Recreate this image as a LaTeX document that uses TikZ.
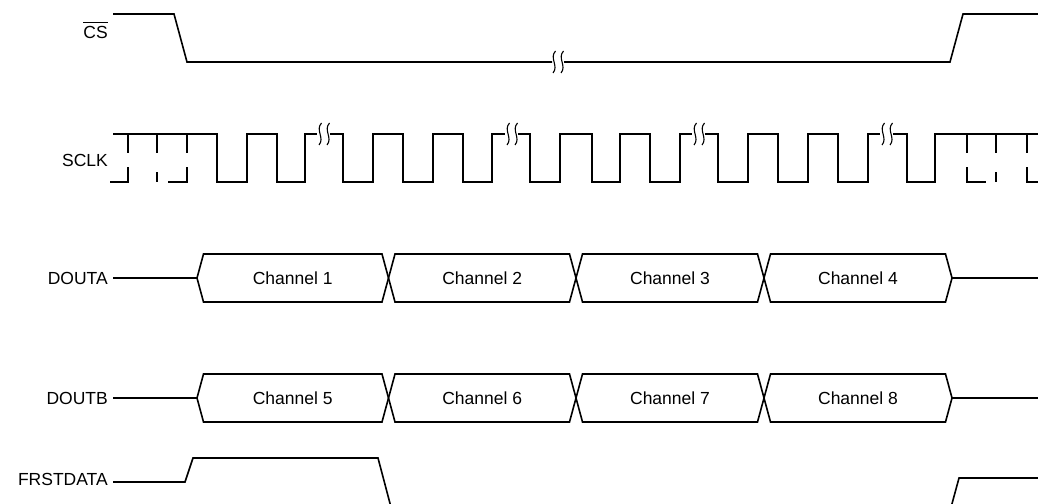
\documentclass[tikz,border=0pt]{standalone}
\usepackage{fontspec}
\setmainfont{Liberation Sans}
\newcommand\wigmark[2]{\draw[brk] (#1+1.5,#2-11) .. controls (#1-5,#2-4) and (#1+5,#2+4) .. (#1-1,#2+11);}
\newcommand\brkpair[2]{\wigmark{#1+3}{#2}\wigmark{#1+11}{#2}}
\begin{document}
\begin{tikzpicture}[x=1pt,y=-1pt,
  sig/.style={line width=1.6pt, line join=miter, line cap=butt},
  brk/.style={line width=1.1pt},
  lbl/.style={inner sep=0pt, font=\fontsize{17.5}{20}\selectfont}]
\clip (0,0) rectangle (1038,503);
\fill[white] (0,0) rectangle (1038,503);

% labels
\node[lbl, anchor=base east] (cs) at (108,38) {CS};
\draw[line width=1pt] ([yshift=3pt]cs.north west) -- ([yshift=3pt]cs.north east);
\node[lbl, anchor=base east] (sclk) at (108,166) {SCLK};
\node[lbl, anchor=base east] (douta) at (108,284) {DOUTA};
\node[lbl, anchor=base east] (doutb) at (108,404) {DOUTB};
\node[lbl, anchor=base east] (frst) at (108,485) {FRSTDATA};

% CS
\draw[sig] (113,14) -- (174,14) -- (187,62) -- (552,62);
\draw[sig] (564,62) -- (950,62) -- (963,14) -- (1038,14);
\wigmark{554}{62}\wigmark{562}{62}

% SCLK
\draw[sig] (113,134) -- (217,134) -- (217,182) -- (247,182) -- (247,134) -- (277,134) -- (277,182) -- (305,182) -- (305,134) -- (317,134);
\draw[sig] (330,134) -- (343,134) -- (343,182) -- (373,182) -- (373,134) -- (403,134) -- (403,182) -- (433,182) -- (433,134) -- (463,134) -- (463,182) -- (492,182) -- (492,134) -- (505,134);
\draw[sig] (518,134) -- (530,134) -- (530,182) -- (560,182) -- (560,134) -- (592,134) -- (592,182) -- (620,182) -- (620,134) -- (650,134) -- (650,182) -- (680,182) -- (680,134) -- (692,134);
\draw[sig] (705,134) -- (718,134) -- (718,182) -- (748,182) -- (748,134) -- (778,134) -- (778,182) -- (808,182) -- (808,134) -- (838,134) -- (838,182) -- (868,182) -- (868,134) -- (880,134);
\draw[sig] (893,134) -- (907,134) -- (907,182) -- (935,182) -- (935,134) -- (1038,134);
\brkpair{317}{134}\brkpair{505}{134}\brkpair{692}{134}\brkpair{880}{134}
% dashed clock parts left
\draw[sig] (110,182) -- (128,182) -- (128,167);
\draw[sig] (128,134) -- (128,153);
\draw[sig] (157,134) -- (157,153);
\draw[sig] (157,172) -- (157,182);
\draw[sig] (168,182) -- (187,182) -- (187,167);
\draw[sig] (187,134) -- (187,153);
% dashed clock parts right
\draw[sig] (967,134) -- (967,153);
\draw[sig] (967,167) -- (967,182) -- (986,182);
\draw[sig] (996,134) -- (996,153);
\draw[sig] (996,172) -- (996,182);
\draw[sig] (1027,134) -- (1027,153);
\draw[sig] (1027,167) -- (1027,182) -- (1038,182);

% DOUTA
\draw[sig] (113,278) -- (197,278);
\draw[sig] (952,278) -- (1038,278);
\foreach \a/\b/\t [count=\i] in {197/388.5/Channel 1, 388.5/576/Channel 2, 576/764/Channel 3, 764/952/Channel 4}{
  \draw[sig] (\a,278) -- (\a+6.5,254) -- (\b-6.5,254) -- (\b,278) -- (\b-6.5,302) -- (\a+6.5,302) -- cycle;
  \node[lbl, anchor=base] (cha\i) at ({(\a+\b)/2},284) {\t};
}

% DOUTB
\draw[sig] (113,398) -- (197,398);
\draw[sig] (952,398) -- (1038,398);
\foreach \a/\b/\t [count=\i] in {197/388.5/Channel 5, 388.5/576/Channel 6, 576/764/Channel 7, 764/952/Channel 8}{
  \draw[sig] (\a,398) -- (\a+6.5,374) -- (\b-6.5,374) -- (\b,398) -- (\b-6.5,422) -- (\a+6.5,422) -- cycle;
  \node[lbl, anchor=base] (chb\i) at ({(\a+\b)/2},404) {\t};
}

% FRSTDATA
\draw[sig] (113,482) -- (185,482) -- (193,458) -- (378,458) -- (392,511);
\draw[sig] (950,511) -- (959,478) -- (1038,478);
\end{tikzpicture}
\end{document}
